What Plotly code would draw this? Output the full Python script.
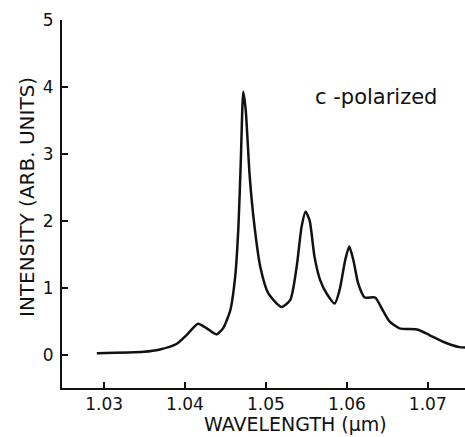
import plotly.graph_objects as go

wavelength = [1.0291, 1.0349, 1.0369, 1.0390, 1.0402, 1.0416, 1.0427, 1.0439, 1.0447,
              1.0456, 1.0462, 1.0466, 1.0469, 1.0472, 1.0475, 1.0480, 1.0486, 1.0493,
              1.0503, 1.0519, 1.0530, 1.0538, 1.0544, 1.0549, 1.0554, 1.0560, 1.0567,
              1.0575, 1.0585, 1.0591, 1.0598, 1.0603, 1.0608, 1.0614, 1.0622, 1.0635,
              1.0643, 1.0653, 1.0665, 1.0688, 1.0702, 1.0719, 1.0739, 1.0746]
intensity = [0.03, 0.05, 0.085, 0.17, 0.30, 0.47, 0.40, 0.31, 0.40,
             0.67, 1.17, 1.91, 2.91, 3.93, 3.66, 2.66, 1.91, 1.32,
             0.92, 0.72, 0.82, 1.32, 1.91, 2.14, 2.01, 1.47, 1.12,
             0.92, 0.77, 0.97, 1.42, 1.62, 1.42, 1.07, 0.86, 0.86,
             0.70, 0.50, 0.40, 0.38, 0.30, 0.20, 0.12, 0.115]

x_ticks = [1.03, 1.04, 1.05, 1.06, 1.07]
x_tick_labels = ["1.03", "1.04", "1.05", "1.06", "1.07"]
y_ticks = [0, 1, 2, 3, 4, 5]
y_tick_labels = ["0", "1", "2", "3", "4", "5"]

FONT = "DejaVu Sans"
INK = "#111111"

fig = go.Figure()
fig.add_trace(go.Scatter(x=wavelength, y=intensity, mode="lines",
                         line=dict(color=INK, width=2.5, shape="spline", smoothing=0.6),
                         showlegend=False, hoverinfo="skip"))

fig.add_annotation(x=1.0636, y=3.85, xref="x", yref="y", text="c -polarized",
                   showarrow=False, font=dict(family=FONT, size=21, color=INK))
fig.add_annotation(x=1.0536, y=-0.49, xref="x", yref="y", text="WAVELENGTH (µm)",
                   showarrow=False, yshift=-36, yanchor="middle",
                   font=dict(family=FONT, size=19, color=INK))
fig.add_annotation(x=0, y=2.36, xref="paper", yref="y", text="INTENSITY (ARB. UNITS)",
                   showarrow=False, xshift=-35, xanchor="center", yanchor="middle",
                   textangle=-90, font=dict(family=FONT, size=20, color=INK))

fig.update_layout(
    width=465, height=437,
    margin=dict(l=62, r=0, t=20, b=49),
    paper_bgcolor="white", plot_bgcolor="white",
    font=dict(family=FONT, size=17, color=INK),
    xaxis=dict(range=[1.0248, 1.0746], tickvals=x_ticks, ticktext=x_tick_labels,
               ticks="inside", ticklen=6, tickwidth=1.5, tickcolor=INK,
               showline=True, linecolor=INK, linewidth=2, showgrid=False, zeroline=False,
               ticklabelstandoff=0, tickfont=dict(size=17)),
    yaxis=dict(range=[-0.49, 5], tickvals=y_ticks, ticktext=y_tick_labels,
               ticks="inside", ticklen=6, tickwidth=1.5, tickcolor=INK,
               showline=True, linecolor=INK, linewidth=2, showgrid=False, zeroline=False,
               ticklabelstandoff=3, tickfont=dict(size=17)),
)

fig.write_html("out.html")
